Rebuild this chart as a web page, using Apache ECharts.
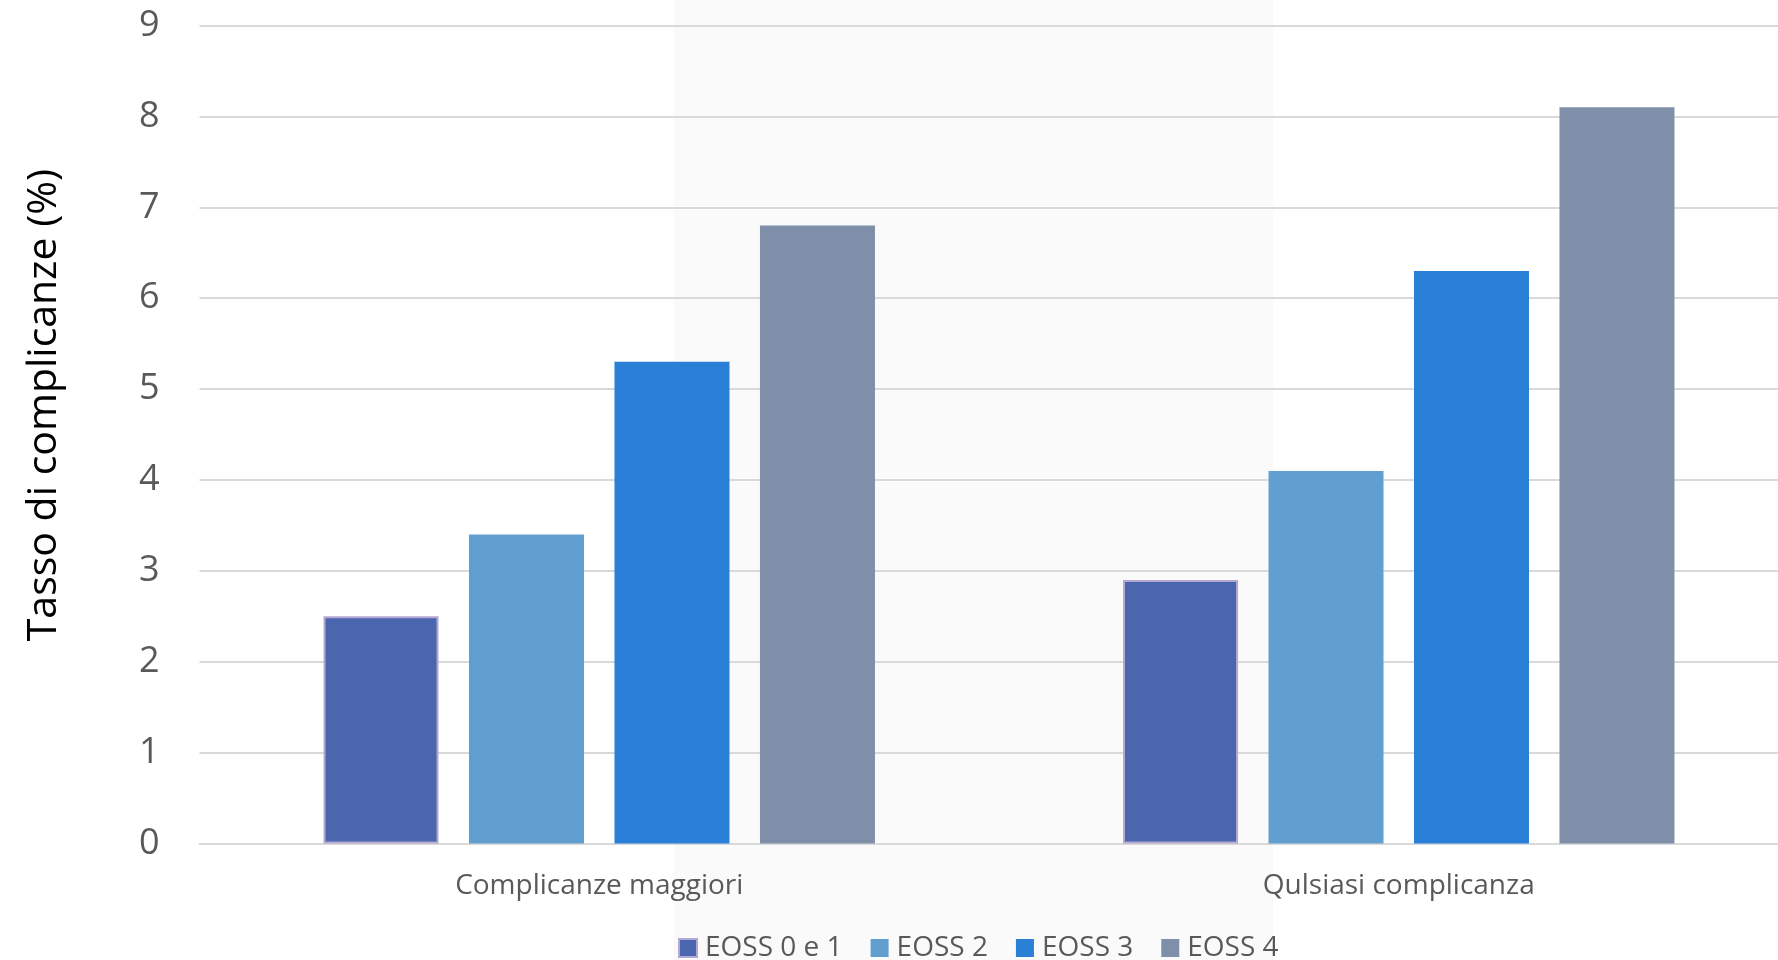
<!DOCTYPE html>
<html>
<head>
<meta charset="utf-8">
<script src="https://cdn.jsdelivr.net/npm/echarts@6/dist/echarts.min.js"></script>
<style>
html,body{margin:0;padding:0;background:#fff;}
#chart{width:1778px;height:960px;}
</style>
</head>
<body>
<div id="chart"></div>
<script>
const categories = ['Complicanze maggiori', 'Qulsiasi complicanza'];
const seriesNames = ['EOSS 0 e 1', 'EOSS 2', 'EOSS 3', 'EOSS 4'];
const eoss01 = [2.5, 2.9];
const eoss2 = [3.4, 4.1];
const eoss3 = [5.3, 6.3];
const eoss4 = [6.8, 8.1];
const yTicks = [0, 1, 2, 3, 4, 5, 6, 7, 8, 9];
const yAxisTitle = 'Tasso di complicanze (%)';

const colors = ['#4a66ac', '#629fd1', '#2a7fd6', '#7f8fa9'];
const values = [eoss01, eoss2, eoss3, eoss4];
const FONT = '"Open Sans", "Noto Sans", sans-serif';

const chart = echarts.init(document.getElementById('chart'));
chart.setOption({
  animation: false,
  backgroundColor: '#ffffff',
  graphic: [
    { type: 'rect', z: -10, silent: true,
      shape: { x: 674, y: 0, width: 599, height: 960 },
      style: { fill: '#fafafa' } },
    { type: 'text', z: 10, x: 44, y: 405, rotation: Math.PI / 2,
      style: { text: yAxisTitle, font: '41px ' + FONT, fill: '#000000',
               align: 'center', verticalAlign: 'middle' } }
  ],
  grid: { left: 199.5, width: 1599, top: 25.5, bottom: 116.4,
          containLabel: false, outerBoundsMode: 'none' },
  legend: {
    data: seriesNames.map((n, i) => i === 0
      ? { name: n, itemStyle: { borderColor: '#b4a7d6', borderWidth: 2 } }
      : { name: n, itemStyle: { borderWidth: 0 } }),
    left: 678, top: 934, padding: 0,
    itemWidth: 18, itemHeight: 18, itemGap: 28,
    icon: 'rect',
    textStyle: { fontFamily: FONT, fontSize: 28, color: '#595959', padding: [0, 0, 0, 3] }
  },
  xAxis: {
    type: 'category',
    data: categories,
    axisLine: { show: true, lineStyle: { color: '#d9d9d9', width: 2 } },
    axisTick: { show: false },
    axisLabel: { fontFamily: FONT, fontSize: 28, color: '#595959', margin: 28 },
    splitLine: { show: false }
  },
  yAxis: {
    type: 'value',
    min: yTicks[0], max: yTicks[yTicks.length - 1], interval: 1,
    axisLine: { show: false },
    axisTick: { show: false },
    axisLabel: { fontFamily: FONT, fontSize: 36, color: '#595959', margin: 40 },
    splitLine: { show: true, lineStyle: { color: '#d9d9d9', width: 2 } }
  },
  series: seriesNames.map((n, i) => ({
    name: n,
    type: 'bar',
    data: values[i],
    barWidth: 115,
    barGap: '26.5%',
    itemStyle: i === 0
      ? { color: colors[i], borderColor: '#b4a7d6', borderWidth: 2 }
      : { color: colors[i] }
  }))
});
</script>
</body>
</html>
